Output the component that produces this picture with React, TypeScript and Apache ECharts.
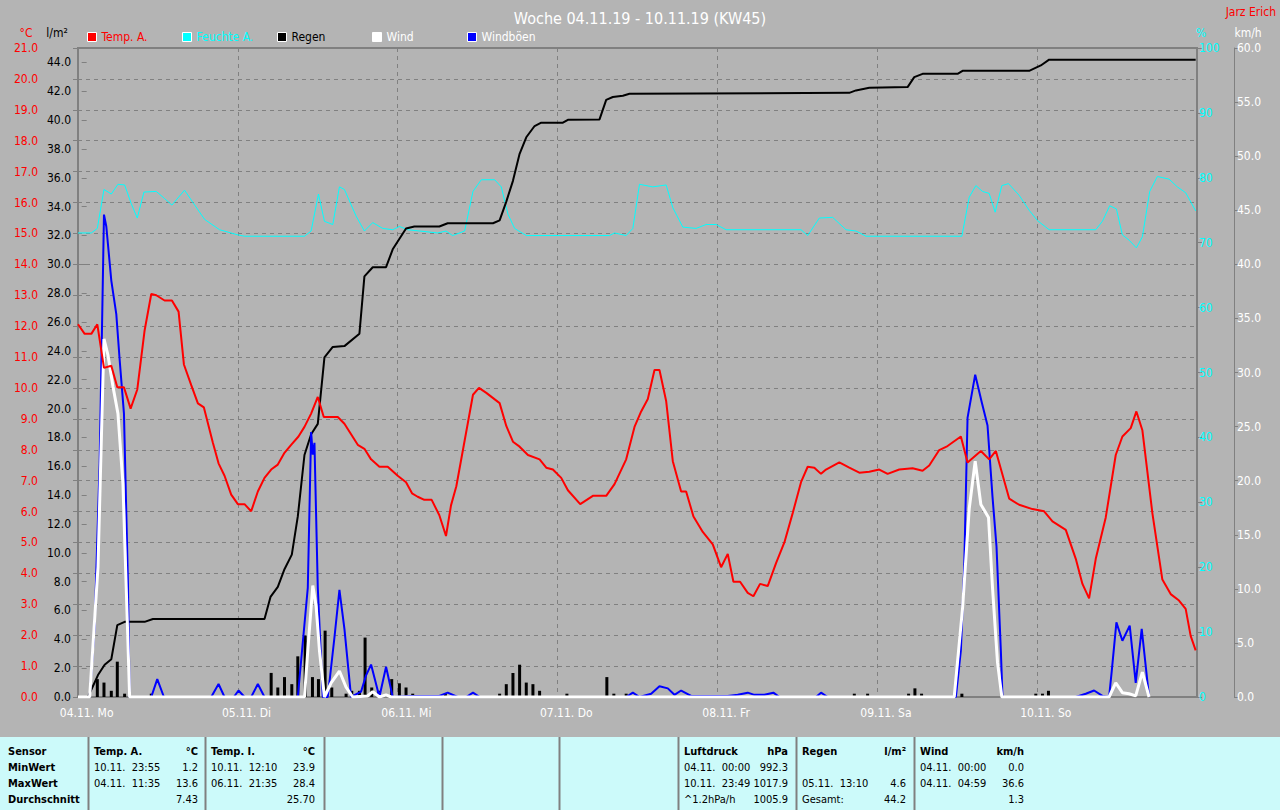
import React, { useEffect, useRef } from "react";
import * as echarts from "echarts";

const FONT = "'Liberation Sans Narrow','Arial Narrow','DejaVu Sans Condensed','Liberation Sans',sans-serif";

const chartTitle = "Woche 04.11.19 - 10.11.19 (KW45)";
const author = "Jarz Erich";
const dayLabels = ["04.11. Mo", "05.11. Di", "06.11. Mi", "07.11. Do", "08.11. Fr", "09.11. Sa", "10.11. So"];
const dayHours = [0, 24, 48, 72, 96, 120, 144];

// [hour since 04.11. 00:00, °C]
const tempA: number[][] = [
  [0, 12.06], [1, 11.75], [2, 11.75], [2.9, 12.06], [3.9, 10.65], [5, 10.72], [5.9, 10.02], [6.9, 10.02],
  [7.9, 9.33], [8.9, 9.95], [10, 11.86], [11, 13.04], [11.75, 13.0], [13, 12.83], [14.1, 12.83], [15.1, 12.47],
  [15.9, 10.76], [17, 10.09], [18, 9.5], [18.9, 9.37], [20.25, 8.23], [21.1, 7.56], [22, 7.16], [23, 6.55],
  [24, 6.24], [25, 6.24], [26, 6.01], [27, 6.65], [28, 7.09], [29, 7.36], [30, 7.52], [31, 7.9], [32, 8.16],
  [33.1, 8.43], [34, 8.74], [35, 9.17], [36, 9.71], [36.9, 9.06], [39, 9.06], [40, 8.84], [41, 8.5], [42, 8.16],
  [43, 8.03], [44, 7.69], [45.25, 7.45], [46.5, 7.45], [48, 7.16], [49.25, 6.95], [50.15, 6.59], [51, 6.48],
  [52, 6.38], [53.1, 6.38], [54.25, 5.88], [55.25, 5.21], [56, 6.2], [56.8, 6.82], [58.05, 8.3], [59.3, 9.78],
  [60.2, 10.0], [61.3, 9.84], [63.3, 9.51], [64.3, 8.77], [65.3, 8.26], [66.3, 8.1], [67.55, 7.83], [69.3, 7.69],
  [70.3, 7.42], [71.3, 7.36], [72.55, 7.09], [73.55, 6.69], [75.4, 6.24], [77.3, 6.51], [79.3, 6.51], [80.55, 6.89],
  [82.3, 7.69], [83.55, 8.74], [84.55, 9.24], [85.55, 9.64], [86.55, 10.58], [87.3, 10.58], [88.3, 9.58],
  [89.3, 7.63], [90.55, 6.65], [91.3, 6.65], [92.4, 5.84], [93.8, 5.34], [95.3, 4.94], [96.55, 4.2], [97.55, 4.63],
  [98.4, 3.73], [99.4, 3.73], [100.55, 3.37], [101.4, 3.26], [102.4, 3.66], [103.55, 3.59], [104.8, 4.33],
  [106.05, 5.0], [107.3, 5.95], [108.55, 6.95], [109.55, 7.45], [110.55, 7.42], [111.55, 7.22], [112.3, 7.36],
  [114.3, 7.59], [115.8, 7.42], [117.3, 7.26], [118.8, 7.29], [120.3, 7.36], [121.55, 7.22], [123.3, 7.36],
  [125.3, 7.4], [126.8, 7.32], [127.8, 7.49], [129.3, 7.99], [130.55, 8.12], [132.55, 8.43], [133.55, 7.59],
  [135.55, 7.96], [136.8, 7.69], [137.8, 7.96], [139.8, 6.42], [141.3, 6.22], [143.3, 6.08], [145.05, 6.01],
  [146.3, 5.68], [148.3, 5.41], [149.8, 4.47], [150.8, 3.66], [151.8, 3.19], [152.8, 4.47], [154.3, 5.81],
  [155.8, 7.83], [156.8, 8.43], [158.05, 8.7], [158.9, 9.24], [159.8, 8.63], [161.3, 5.95], [162.8, 3.8],
  [164.05, 3.33], [165.3, 3.12], [166.3, 2.85], [167.05, 1.98], [167.8, 1.51],
];

// [hour, %]
const humidity: number[][] = [
  [0, 71.5], [2, 71.5], [2.9, 72.2], [3.9, 78.2], [5, 77.5], [6, 79.0], [7, 78.9], [8, 76.0], [8.9, 73.8],
  [9.9, 77.8], [11.75, 77.9], [13, 76.8], [14.1, 75.8], [16, 78.1], [17.25, 76.2], [19, 73.6], [21.25, 72.0],
  [24, 71.2], [25, 71.0], [34, 71.0], [35, 71.8], [36.1, 77.5], [37, 73.3], [38.25, 72.8], [39.25, 78.6],
  [40, 78.2], [41.75, 74.1], [43, 71.8], [44.25, 73.1], [45.75, 72.2], [47.25, 72.0], [48.25, 72.5], [49.5, 72.0],
  [54, 71.5], [55.25, 71.8], [56.25, 71.1], [58.05, 71.8], [59.3, 77.9], [60.55, 79.7], [62.55, 79.7],
  [63.55, 78.6], [64.55, 74.4], [65.55, 72.2], [67.3, 71.1], [79.8, 71.1], [80.55, 71.5], [82.3, 71.1],
  [83.3, 72.2], [84.3, 79.0], [86.3, 78.6], [88.3, 78.9], [89.3, 75.4], [90.8, 72.4], [92.8, 72.2], [94.3, 72.8],
  [95.8, 72.8], [97.3, 72.0], [108.55, 72.0], [109.55, 71.1], [111.3, 73.8], [113.3, 73.9], [115.3, 72.0],
  [116.8, 71.8], [118.3, 71.0], [132.7, 71.0], [133.8, 77.0], [134.8, 78.8], [135.8, 77.9], [136.8, 77.6],
  [137.7, 74.7], [138.7, 78.8], [139.7, 79.1], [141.3, 77.3], [142.8, 75.0], [144.05, 73.4], [145.8, 72.0],
  [152.8, 72.0], [153.8, 73.3], [154.9, 75.7], [155.9, 75.2], [156.8, 71.2], [157.8, 70.4], [158.9, 69.2],
  [159.8, 70.9], [160.9, 77.9], [162.05, 80.2], [163.8, 79.8], [165.05, 78.6], [166.3, 77.7], [167.8, 74.9],
];

// cumulative rain [hour, l/m²]
const rainTotal: number[][] = [
  [0, 0], [1.5, 0], [3, 1.52], [4, 2.24], [5, 2.62], [5.9, 4.98], [7, 5.21], [10, 5.21], [11.25, 5.41],
  [28, 5.41], [28.9, 6.94], [30, 7.63], [31, 8.86], [32.1, 9.87], [33, 12.52], [34, 16.78], [35, 18.22],
  [36, 18.94], [37, 23.55], [38.25, 24.27], [40, 24.33], [42.25, 25.19], [43, 29.16], [44.25, 29.8],
  [46.25, 29.8], [47.25, 31.04], [49.25, 32.48], [50.5, 32.62], [54.25, 32.62], [55.5, 32.85], [62.3, 32.85],
  [63.3, 33.05], [64.3, 34.35], [65.3, 35.79], [66.3, 37.66], [67.3, 38.81], [68.55, 39.59], [69.55, 39.82],
  [72.8, 39.82], [73.55, 40.02], [78.3, 40.05], [79.3, 41.4], [80.3, 41.6], [81.8, 41.69], [82.8, 41.83],
  [115.8, 41.89], [116.8, 42.06], [118.8, 42.24], [124.55, 42.29], [125.55, 42.98], [126.8, 43.21],
  [132.05, 43.21], [132.8, 43.42], [142.8, 43.42], [144.55, 43.79], [145.8, 44.19], [167.8, 44.19],
];

// rain per interval [hour, l/m²]
const rainBars: number[][] = [
  [2.9, 1.24], [3.9, 1.0], [5, 0.43], [5.9, 2.45], [7, 0.23], [11, 0.23], [29, 1.67], [30, 0.66], [31, 1.38],
  [32.1, 0.89], [33, 2.82], [34.1, 4.26], [35.2, 1.38], [36.1, 1.24], [37.1, 4.6], [38.1, 0.66], [40.25, 0.23],
  [41.1, 0.43], [42.25, 0.43], [43.1, 4.12], [44.1, 0.66], [45.1, 0.43], [47.1, 1.24], [48.25, 0.95],
  [49.25, 0.66], [50.25, 0.23], [55.15, 0.23], [63.3, 0.23], [64.3, 0.89], [65.3, 1.67], [66.3, 2.24],
  [67.3, 1.0], [68.3, 0.89], [69.3, 0.43], [73.4, 0.23], [79.4, 1.38], [80.45, 0.23], [82.3, 0.23],
  [116.55, 0.23], [118.55, 0.23], [124.7, 0.23], [125.65, 0.6], [126.65, 0.23], [132.7, 0.23], [143.8, 0.23],
  [144.8, 0.23], [145.7, 0.43],
];

// [hour, km/h]
const wind: number[][] = [
  [0, 0], [1.75, 0], [3, 12], [3.9, 33.1], [4.5, 31.6], [5.25, 28.7], [6, 26.2], [6.75, 19.7], [7.4, 7],
  [7.75, 0], [34, 0], [34.5, 4.3], [35.25, 10.3], [35.75, 8.4], [36.25, 4.3], [37, 0], [38, 1.3], [39.25, 2.4],
  [40.25, 0.9], [41.25, 0], [43.5, 0.1], [44.25, 0.5], [45.25, 0], [46.25, 0.2], [47, 0], [131.55, 0],
  [132.8, 8.2], [133.8, 17.4], [134.7, 21.8], [135.55, 17.8], [136.7, 16.6], [137.3, 10.1], [138.05, 3.2],
  [138.7, 0], [154.8, 0], [155.8, 1.3], [156.8, 0.4], [157.8, 0.3], [158.8, 0.1], [159.8, 2.3], [160.8, 0],
];

const gusts: number[][] = [
  [0, 0], [1.75, 0], [2.5, 6.6], [3.25, 21.6], [3.9, 44.6], [4.25, 43.5], [5, 38.5], [5.75, 35.4], [6.25, 31.2],
  [6.9, 26.2], [7.5, 10.5], [7.75, 0], [11, 0], [11.9, 1.65], [12.9, 0], [20, 0], [21.1, 1.2], [22, 0],
  [23.4, 0], [24.1, 0.6], [25, 0], [26, 0], [27, 1.2], [28, 0], [33, 0], [34.5, 10.1], [35, 24.5], [35.25, 22.4],
  [35.5, 23.5], [36, 10.1], [36.75, 0], [37.5, 0], [38.5, 5.5], [39.25, 9.9], [40, 6.3], [41, 0], [42.5, 0.5],
  [43.25, 2.0], [44, 3.0], [45.25, 0], [46.25, 2.8], [47.25, 0], [50, 0.1], [52, 0.1], [54.25, 0.1], [55.5, 0.4],
  [57, 0], [58.3, 0], [59.3, 0.4], [60.3, 0], [82.3, 0], [83.3, 0.4], [84.3, 0], [86.05, 0.3], [87.3, 1.0],
  [88.55, 0.8], [89.55, 0.2], [90.55, 0.6], [92.05, 0.1], [97.55, 0.1], [99.05, 0.2], [100.55, 0.4],
  [101.55, 0.2], [103.05, 0.2], [104.4, 0.4], [105.3, 0], [110.8, 0], [111.55, 0.4], [112.55, 0], [131.8, 0],
  [132.55, 4.3], [133.05, 12], [133.55, 25.8], [134.7, 29.8], [135.7, 27.2], [136.55, 25.1], [137.3, 18.5],
  [137.9, 13.9], [138.55, 4.3], [138.8, 0], [149.8, 0], [151.3, 0.3], [152.55, 0.6], [153.8, 0.1], [154.8, 0],
  [155.2, 2.4], [155.9, 6.9], [156.8, 5.2], [157.9, 6.6], [158.8, 1.3], [159.7, 6.3], [160.8, 0],
];

const legendNames = ["Temp. A.", "Feuchte A.", "Regen", "Wind", "Windböen"];
const legendTextColors = ["#ff0000", "#00ffff", "#000000", "#ffffff", "#ffffff"];

// statistics table
const sensorRows = ["Sensor", "MinWert", "MaxWert", "Durchschnitt"];
const tableTitles = ["Temp. A.", "Temp. I.", "", "", "", "Luftdruck", "Regen", "Wind"];
const tableUnits = ["°C", "°C", "", "", "", "hPa", "l/m²", "km/h"];
const tableTimes = [
  ["10.11.  23:55", "04.11.  11:35", ""],
  ["10.11.  12:10", "06.11.  21:35", ""],
  ["", "", ""],
  ["", "", ""],
  ["", "", ""],
  ["04.11.  00:00", "10.11.  23:49", "^1.2hPa/h"],
  ["", "05.11.  13:10", "Gesamt:"],
  ["04.11.  00:00", "04.11.  04:59", ""],
];
const tableValues = [
  ["1.2", "13.6", "7.43"],
  ["23.9", "28.4", "25.70"],
  ["", "", ""],
  ["", "", ""],
  ["", "", ""],
  ["992.3", "1017.9", "1005.9"],
  ["", "4.6", "44.2"],
  ["0.0", "36.6", "1.3"],
];

export default function App() {
  const ref = useRef<HTMLDivElement>(null);

  useEffect(() => {
    if (!ref.current) return;
    const chart = echarts.init(ref.current, null, { renderer: "svg" });
    const gray = "#808080";
    const lab = (color: string, size = 12) => ({ color, fontFamily: FONT, fontSize: size });

    // table graphics
    const tableTop = 737;
    const colEdges = [88, 205, 324, 442, 559, 678, 796, 914];
    const rowY = [751, 767, 783, 799];
    const g: any[] = [];
    g.push({ type: "rect", shape: { x: 0, y: tableTop, width: 1280, height: 810 - tableTop }, style: { fill: "#ccfafa" }, silent: true });
    colEdges.forEach((x) => {
      g.push({ type: "line", shape: { x1: x + 0.5, y1: tableTop, x2: x + 0.5, y2: 810 }, style: { stroke: gray, lineWidth: 2 } });
    });
    const txt = (text: string, x: number, y: number, align: string, bold: boolean, fill = "#000", size = 11) => ({
      type: "text",
      x,
      y,
      style: { text, fill, font: `${bold ? "bold " : ""}${size}px ${FONT}`, textAlign: align, textVerticalAlign: "middle" },
    });
    sensorRows.forEach((s, i) => g.push(txt(s, 8, rowY[i], "left", true)));
    tableTitles.forEach((t, c) => {
      const x0 = colEdges[c];
      if (t) g.push(txt(t, x0 + 6, rowY[0], "left", true));
      if (tableUnits[c]) g.push(txt(tableUnits[c], x0 + 110, rowY[0], "right", true));
      for (let r = 0; r < 3; r++) {
        if (tableTimes[c][r]) g.push(txt(tableTimes[c][r], x0 + 6, rowY[r + 1], "left", false));
        if (tableValues[c][r]) g.push(txt(tableValues[c][r], x0 + 110, rowY[r + 1], "right", false));
      }
    });
    // axis unit names
    g.push(txt("°C", 26, 33, "center", false, "#ff0000", 12));
    g.push(txt("l/m²", 57, 33, "center", false, "#000000", 12));
    g.push(txt("%", 1201, 33, "center", false, "#00ffff", 12));
    g.push(txt("km/h", 1248, 33, "center", false, "#ffffff", 12));
    g.push(txt(author, 1276, 12, "right", false, "#ff0000", 12));

    const legendLefts = [87, 182, 277, 372, 467];
    const legends = legendNames.map((n, i) => ({
      left: legendLefts[i],
      top: 31,
      padding: 0,
      itemWidth: 9,
      itemHeight: 9,
      icon: "rect",
      selectedMode: false,
      itemStyle: { borderColor: "#ffffff", borderWidth: 1 },
      textStyle: { fontFamily: FONT, fontSize: 12, color: legendTextColors[i] },
      data: [{ name: n, textStyle: { color: legendTextColors[i] } }],
    }));

    const option: any = {
      animation: false,
      backgroundColor: "#b4b4b4",
      title: {
        text: chartTitle,
        left: "center",
        top: 5,
        textStyle: { color: "#ffffff", fontSize: 16, fontWeight: "normal", fontFamily: FONT },
      },
      legend: legends,
      grid: {
        left: 78,
        right: 83,
        top: 48,
        bottom: 113,
        show: true,
        borderColor: gray,
        borderWidth: 2,
        backgroundColor: "transparent",
      },
      xAxis: [
        {
          type: "value",
          min: 0,
          max: 168,
          interval: 24,
          axisLine: { show: true, lineStyle: { color: gray, width: 2 } },
          axisTick: { show: false },
          axisLabel: { show: false },
          splitLine: { show: true, lineStyle: { color: gray, type: [4, 4] } },
        },
        {
          type: "value",
          min: -1.3,
          max: 166.7,
          position: "bottom",
          axisLine: { show: false },
          axisTick: { show: false },
          splitLine: { show: false },
          axisLabel: {
            ...lab("#ffffff"),
            margin: 10,
            customValues: dayHours,
            formatter: (v: number) => {
              const i = dayHours.indexOf(Math.round(v));
              return i >= 0 ? dayLabels[i] : "";
            },
          },
        },
      ],
      yAxis: [
        {
          type: "value",
          position: "left",
          offset: 38,
          min: 0,
          max: 21,
          interval: 1,
          axisLine: { show: true, lineStyle: { color: gray } },
          axisTick: { show: true, length: 5, lineStyle: { color: gray } },
          axisLabel: { ...lab("#ff0000"), margin: 2, formatter: (v: number) => v.toFixed(1) },
          splitLine: { show: true, lineStyle: { color: gray, type: [4, 4] } },
        },
        {
          type: "value",
          position: "left",
          offset: 5,
          min: 0,
          max: 45,
          interval: 2,
          axisLine: { show: false },
          axisTick: { show: true, length: 5, lineStyle: { color: gray } },
          axisLabel: { ...lab("#000000"), margin: 2, showMaxLabel: false, formatter: (v: number) => v.toFixed(1) },
          splitLine: { show: false },
        },
        {
          type: "value",
          position: "right",
          offset: 0,
          min: 0,
          max: 100,
          interval: 10,
          axisLine: { show: true, lineStyle: { color: gray, width: 2 } },
          axisTick: { show: true, length: 5, lineStyle: { color: gray } },
          axisLabel: { ...lab("#00ffff"), margin: 2, formatter: (v: number) => String(Math.round(v)) },
          splitLine: { show: false },
        },
        {
          type: "value",
          position: "right",
          offset: 37,
          min: 0,
          max: 60,
          interval: 5,
          axisLine: { show: true, lineStyle: { color: gray } },
          axisTick: { show: true, length: 4, lineStyle: { color: gray } },
          axisLabel: { ...lab("#ffffff"), margin: 3, formatter: (v: number) => v.toFixed(1) },
          splitLine: { show: false },
        },
      ],
      series: [
        {
          name: "Feuchte A.",
          type: "line",
          yAxisIndex: 2,
          data: humidity,
          showSymbol: false,
          color: "#00ffff",
          lineStyle: { color: "#00ffff", width: 1 },
        },
        {
          name: "Regen",
          type: "line",
          yAxisIndex: 1,
          data: rainTotal,
          showSymbol: false,
          color: "#000000",
          lineStyle: { color: "#000000", width: 2 },
        },
        {
          name: "Regen",
          type: "bar",
          yAxisIndex: 1,
          data: rainBars,
          barWidth: 3,
          color: "#000000",
          itemStyle: { color: "#000000" },
        },
        {
          name: "Windböen",
          type: "line",
          yAxisIndex: 3,
          data: gusts,
          showSymbol: false,
          color: "#0000ff",
          lineStyle: { color: "#0000ff", width: 2 },
        },
        {
          name: "Wind",
          type: "line",
          yAxisIndex: 3,
          data: wind,
          showSymbol: false,
          color: "#ffffff",
          lineStyle: { color: "#ffffff", width: 3 },
        },
        {
          name: "Temp. A.",
          type: "line",
          yAxisIndex: 0,
          data: tempA,
          showSymbol: false,
          color: "#ff0000",
          lineStyle: { color: "#ff0000", width: 2 },
        },
      ],
      graphic: g,
    };
    chart.setOption(option);
    return () => chart.dispose();
  }, []);

  return <div ref={ref} style={{ position: "fixed", left: 0, top: 0, width: 1280, height: 810 }} />;
}
